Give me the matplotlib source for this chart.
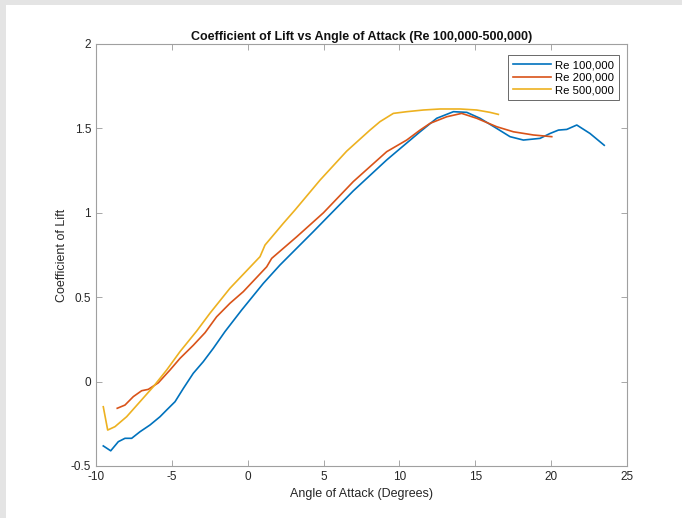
import matplotlib
matplotlib.use("Agg")
import matplotlib.pyplot as plt
from matplotlib.patches import Rectangle

plt.rcParams['font.family'] = ['Liberation Sans', 'DejaVu Sans']
plt.rcParams['axes.unicode_minus'] = False

# Re 100,000
aoa_100 = [-9.52, -9.03, -8.53, -8.09, -7.65, -7.10, -6.44, -5.78, -5.34, -4.79, -4.24,
           -3.59, -2.93, -2.27, -1.50, -0.40, 1.03, 2.13, 3.23, 4.32, 5.43, 6.96,
           9.16, 10.04, 11.36, 12.46, 13.56, 14.44, 15.31, 16.41, 17.29, 18.17,
           19.27, 19.93, 20.48, 21.03, 21.69, 22.56, 23.50]
cl_100 = [-0.381, -0.41, -0.356, -0.336, -0.336, -0.297, -0.257, -0.208, -0.168, -0.119,
          -0.04, 0.049, 0.118, 0.197, 0.296, 0.424, 0.582, 0.691, 0.79, 0.888, 0.99,
          1.13, 1.313, 1.38, 1.48, 1.56, 1.599, 1.595, 1.56, 1.50, 1.451,
          1.431, 1.441, 1.47, 1.49, 1.494, 1.52, 1.47, 1.40]

# Re 200,000
aoa_200 = [-8.60, -8.09, -7.54, -6.99, -6.55, -5.89, -5.12, -4.46, -3.59, -2.81, -2.05,
           -1.17, -0.29, 1.25, 1.58, 3.23, 4.99, 6.96, 9.16, 10.48, 11.36, 12.02,
           13.12, 14.10, 15.09, 16.41, 17.51, 18.83, 20.04]
cl_200 = [-0.158, -0.139, -0.089, -0.054, -0.046, -0.007, 0.069, 0.138, 0.215, 0.29,
          0.384, 0.464, 0.533, 0.68, 0.73, 0.858, 1.0, 1.185, 1.362, 1.431, 1.49, 1.53,
          1.569, 1.589, 1.56, 1.51, 1.48, 1.461, 1.451]

# Re 500,000
aoa_500 = [-9.52, -9.23, -8.75, -7.98, -7.10, -6.22, -5.34, -4.46, -3.36, -2.49, -1.17,
           0.81, 1.14, 2.35, 3.12, 4.77, 6.52, 8.06, 8.72, 9.60, 10.48, 11.58, 12.68,
           14.00, 15.09, 15.97, 16.52]
cl_500 = [-0.149, -0.287, -0.267, -0.208, -0.119, -0.03, 0.069, 0.178, 0.30, 0.405,
          0.553, 0.74, 0.809, 0.938, 1.017, 1.194, 1.365, 1.49, 1.54, 1.589, 1.599,
          1.609, 1.615, 1.615, 1.609, 1.595, 1.583]

series_labels = ['Re 100,000', 'Re 200,000', 'Re 500,000']
colors = ['#0072BD', '#D95319', '#EDB120']

x_ticks = [-10, -5, 0, 5, 10, 15, 20, 25]
y_ticks = [-0.5, 0, 0.5, 1, 1.5, 2]
y_tick_labels = ['-0.5', '0', '0.5', '1', '1.5', '2']

fig = plt.figure(figsize=(6.82, 5.18), dpi=100)
fig.patch.set_facecolor('white')
# screenshot gray borders
fig.patches.append(Rectangle((0, 1 - 5 / 518), 1, 5 / 518, transform=fig.transFigure,
                             facecolor='#e4e4e4', edgecolor='none', zorder=0))
fig.patches.append(Rectangle((0, 0), 6 / 682, 1, transform=fig.transFigure,
                             facecolor='#e4e4e4', edgecolor='none', zorder=0))

ax = fig.add_axes([96 / 682, 1 - 466 / 518, (627 - 96) / 682, (466 - 44) / 518])

for xs, ys, lab, c in zip([aoa_100, aoa_200, aoa_500], [cl_100, cl_200, cl_500],
                          series_labels, colors):
    ax.plot(xs, ys, color=c, lw=1.2, label=lab)

ax.set_xlim(-10, 25)
ax.set_ylim(-0.5, 2)
ax.set_xticks(x_ticks)
ax.set_yticks(y_ticks)
ax.set_yticklabels(y_tick_labels)
ax.tick_params(direction='in', top=True, right=True, length=4, width=0.6,
               colors='#999999', labelcolor='#262626', labelsize=8.5)
for s in ax.spines.values():
    s.set_color('#a0a0a0')
    s.set_linewidth(0.8)

ax.set_xlabel('Angle of Attack (Degrees)', fontsize=9, color='#262626', labelpad=4)
ax.set_ylabel('Coefficient of Lift', fontsize=9, color='#262626', labelpad=2)
ax.set_title('Coefficient of Lift vs Angle of Attack (Re 100,000-500,000)',
             fontsize=9, fontweight='bold', color='#111111', pad=3)

leg = ax.legend(loc='upper right', fontsize=8.2, frameon=True, fancybox=False,
                handlelength=3.4, handletextpad=0.3, borderpad=0.45, labelspacing=0.22,
                borderaxespad=0, bbox_to_anchor=(0.985, 0.974))
leg.get_frame().set_edgecolor('#262626')
leg.get_frame().set_linewidth(0.6)

fig.savefig('out.png', dpi=100)
